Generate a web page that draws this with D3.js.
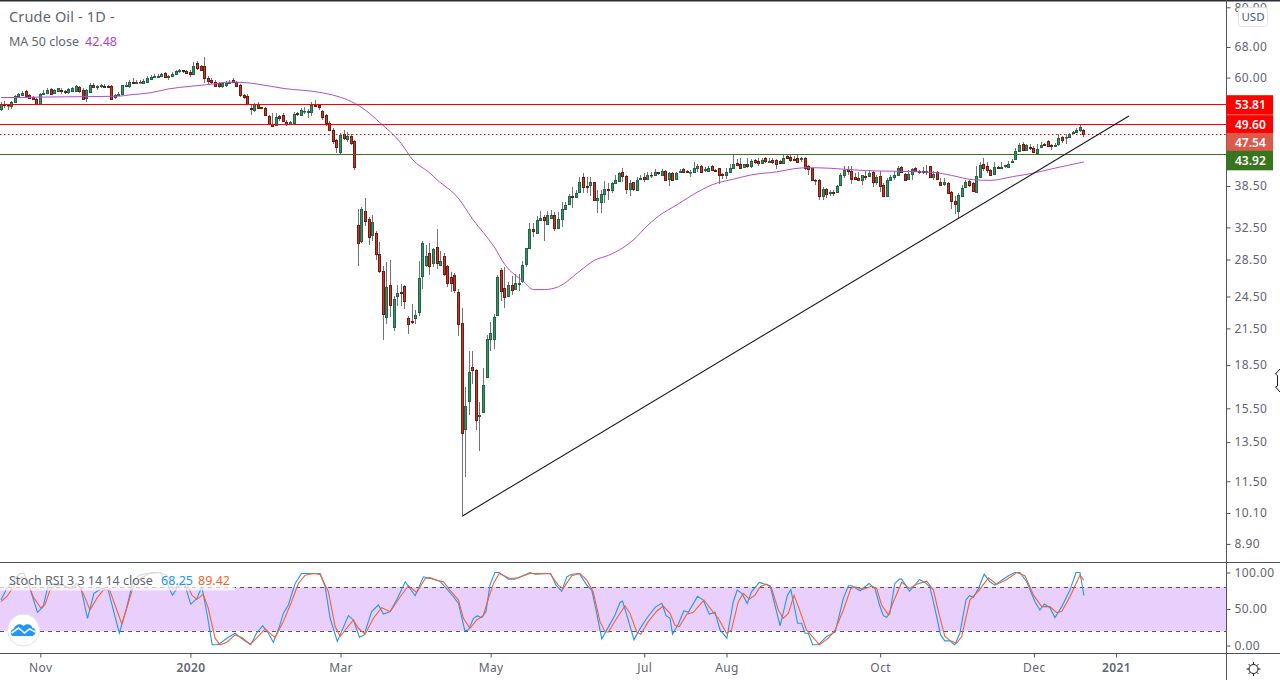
<!DOCTYPE html>
<html>
<head>
<meta charset="utf-8">
<script src="https://d3js.org/d3.v7.min.js"></script>
<style>
  html, body { margin: 0; padding: 0; background: #fff; overflow: hidden; }
  text { font-family: "Noto Sans", "Open Sans", sans-serif; }
  .domain { display: none; }
</style>
</head>
<body>
<div id="chart"></div>
<script>
// daily candles, oldest first
var opens = [
  52.8,53.9,53.7,53.4,54.2,55.7,55.8,56.8,55.8,55.5,
  54.9,53.9,56,56.3,57.2,56.3,56.8,57.1,56.8,56.5,
  56.9,56.8,57.7,57,55.2,56.6,58.1,57.8,57.9,58,
  57.9,57.9,55.4,55.8,56,58,58,59,58.8,59,
  58.6,58.9,59.6,60.1,60.2,60.4,61.1,60.2,60.3,61,
  61.6,61.8,61.7,61.5,60.9,63.7,62.8,62.8,60,59.4,
  59,58.6,57.9,58.2,58.8,59.3,58.9,58.1,55.9,55.7,
  52.9,52.5,53.8,53.1,53,51.2,49.6,49.4,51.2,51.4,
  50,49.6,49.9,51.9,51.5,52.3,52.2,52.1,53.6,53.6,
  52.4,51.4,49.9,48.5,46.4,44.2,47.6,46.7,47.3,46.2,
  32.8,30.8,34.7,33.7,31.5,31.8,29.2,27.2,22.5,25.7,
  21.6,24.5,24.95,25.6,22.4,22.2,22.4,23,26.6,27.9,
  29.3,28.1,30,27.9,28.9,27.7,26.5,26.7,25,22,
  14.25,16,18.35,18.1,15,15.3,17.65,20.6,20.6,22.75,
  27.3,25.4,24.5,25.7,25.3,25.75,26.1,28,29.9,32.3,
  31.8,33.5,33.9,33,33.8,34.2,32.4,33.6,35.1,35.7,
  37,36.8,37.5,39.9,38.5,38.6,39.1,36.3,36,37.2,
  38,37.8,39,39.3,40.8,40.1,38.1,39.1,37.8,39.7,
  39.9,39.6,40.3,40.3,40.7,40.3,41,39.6,40.6,39.7,
  40.7,41.2,41,40.7,40.7,41.4,41.8,41.1,41,41.7,
  41.1,41.4,40.5,40.3,40.8,41.5,42.3,42.1,41.6,42.1,
  41.7,42.8,42.6,42.3,43.1,42.5,42.9,42.8,42.6,42.3,
  43.5,43.4,43,43.1,43,43.2,41.8,41.4,39.5,39.5,
  37,38.1,37.4,37.5,37.5,38.7,40.3,41.2,40.9,39.9,
  39.8,39.5,40.1,40.1,40.8,39.1,40.1,38.7,37,39.5,
  39.9,40.2,41.6,40.5,39.7,40.4,41.4,41,40.9,40.8,
  41.7,40,40.7,39.1,38.8,39,37.5,36.2,34.7,37,
  38.3,39.3,38.9,37.6,40,42.2,41.8,41.1,40.4,41.6,
  41.5,41.7,41.6,42.4,43,44.5,45.8,44.7,45.1,45,
  44.1,45.1,45.8,46.2,45.6,45.4,45.7,47.1,47.1,47.1,
  47.8,48.1,48.4,48.5];
var highs = [
  54.2,54.5,53.9,54.5,55.9,56.3,56.9,57,56.1,55.7,
  55.2,56.4,57,57.4,57.5,57.2,57.6,57.4,57,57.6,
  57.8,58.1,58,57.4,57.3,58.6,58.7,58.3,58.5,58.5,
  58.1,58.1,56.2,56.6,58.2,59,59.5,59.8,59.5,59.3,
  59.7,60.3,60.6,60.9,60.8,61.1,61.4,60.7,61.3,61.9,
  62.2,62,62,61.8,64,64.3,63.3,65.3,60.5,59.9,
  59.3,59,58.9,59.2,59.4,59.9,59.2,58.4,56.2,56,
  53.9,54,54.3,53.3,53.2,51.5,51.9,51.9,51.5,51.8,
  50.4,50.3,52.1,52.2,53,53.3,52.8,54.3,54.7,53.8,
  52.6,51.7,50.2,48.8,46.6,47.8,48.4,48,47.6,46.5,
  35.1,35.3,36.7,33.9,34.2,32,30.6,27.7,28.2,28.5,
  24.5,25.7,25.8,25.7,22.6,23.8,23.2,28.3,30.7,30.3,
  30.5,29.9,32.3,29.5,29.3,27.9,27.1,27,25.3,23.4,
  16.9,19.6,19.6,18.2,15.9,18.3,20.9,22.1,22.8,26.7,
  27.5,27.6,26,26.6,26.9,26.9,28.3,29.9,33.1,33.1,
  34,34.8,34.2,34.7,34.9,34.6,34.6,36,36,37.3,
  38.4,37.9,39.9,40.6,40,40,39.2,37.9,37.8,39.3,
  39,39.2,40.3,40.8,41.5,40.3,39.4,39.2,39.9,40.2,
  40.6,40.7,40.7,41.2,40.8,41.2,41.1,40.7,40.7,40.7,
  41.3,41.4,41.1,41.1,42.4,42.1,41.9,41.6,41.8,41.9,
  41.3,41.4,40.6,41.4,42.1,43.8,43,43.2,42.2,43.2,
  43,43,43.2,43.1,43.4,43.1,43.1,43,42.8,43.8,
  43.8,43.8,43.6,43.8,43.4,43.4,42,41.5,39.6,39.6,
  38.4,38.2,37.9,37.8,38.7,40.6,41.7,41.7,41.7,40.6,
  40.7,40.3,40.9,41.1,40.9,40.3,40.9,39,39.8,40.3,
  40.9,41.7,41.7,40.6,41.1,41.4,41.6,41.1,41.6,41.9,
  41.8,40.9,41,39.8,39.8,39.2,37.7,37,37.4,38.7,
  39.5,39.5,39.2,41.7,42.4,43.1,42.5,41.2,42.5,41.8,
  42.5,42,42.6,43,44.9,46,46.1,45.8,45.8,45.3,
  45.7,46.1,46,46.5,45.8,46,47.7,47.2,47.7,47.9,
  48.3,48.9,49.4,48.6];
var lows = [
  52.4,52.9,52.6,52.8,54,55.5,55.6,55.5,55,54.7,
  53.8,53.8,55.8,56.1,55.9,56,56.6,56.2,56.2,56.2,
  56.7,56.5,56.4,54.9,54.2,56.3,57.4,57.1,57.5,57.5,
  57.5,54.8,55,55.6,55.8,57.9,57.5,58.5,58.5,58.6,
  58.4,58.7,59.5,59.9,60,60.1,59.9,59.5,60.1,60.8,
  61.1,61.1,60.8,60.2,60.7,62,61.8,58.8,58.5,58.5,
  57.7,57.5,57.5,57.8,58.5,58.6,57.7,55.5,54.9,53.6,
  51.4,52.2,52.7,52.7,51.2,49.4,49,49.2,50.3,50,
  49.3,49.4,49.7,51.2,51.2,51.6,50.8,51.3,53.2,52.6,
  50.4,49.3,48.2,45.8,44,43.8,46.4,46.1,45.6,41.1,
  27.7,30.5,32.7,30.3,30.7,28.5,27,20.5,21.9,22.5,
  21.3,23.6,23.6,23.3,21,21.9,21.9,22.6,25.3,27.6,
  26.8,27.6,27.4,27.7,26.6,25.5,25,24.9,20.8,10,
  11.7,15.1,17.1,14.2,13,15.3,17.6,19.6,19.8,22.75,
  24,23.4,24.4,24.6,25.2,25.1,25.9,27.6,29.8,31.3,
  31.7,33.4,30.8,32.9,33.6,32,32.3,32.5,35,35.6,
  35.2,36.7,37.4,37.4,37.4,36.9,36.2,34.5,34.5,35.9,
  36.3,37.4,38.9,39.2,39.2,37.3,37,37.7,37.7,39.5,
  39.2,39.4,39.8,40.2,40.2,40.3,39.4,38.5,39.4,39.5,
  40.6,40.6,40.6,39.9,40.6,40.8,40.7,40.7,40.9,40.9,
  40.8,38.8,39.7,39.6,40.8,41.4,41.8,41.2,41.5,41.5,
  41.5,42.1,41.8,42.2,42.3,42.3,42.2,41.2,42.2,42.2,
  43.1,42.4,42.6,42.4,42.5,41.1,40.3,39.4,38.7,36.4,
  36.4,36.7,36.9,37,37.4,38.5,39.8,40.3,38.8,39.4,
  39.3,38.7,39.4,40,38.4,38.7,37.5,36.9,36.9,39.4,
  39.5,40.1,40.6,39.4,39.6,39.4,40.9,40.5,40.4,40.3,
  39.8,39.5,39.6,38.5,38.5,37.2,35,34.3,33.7,36.9,
  38.2,38.4,37.6,37.5,39.8,40.9,40.6,40.2,40.2,41.2,
  41.2,41.5,41.5,42.3,42.8,44.4,44.4,44.5,44.7,44.1,
  44,44.9,45.3,45.2,44.7,45.3,45.3,45.9,45.8,46.9,
  47.6,47.9,48,47.1];
var closes = [
  53.8,53.6,53.6,54.2,55.7,56,56.4,55.6,55.2,54.9,
  53.9,56,56.3,57.1,56,57,57.4,56.7,56.6,57.3,
  57.5,57.9,56.7,55,57,58.2,57.8,57.9,58.2,57.8,
  57.7,55,55.9,56.2,58.1,58.2,59,58.8,59,58.9,
  59.2,60,60.2,60.5,60.5,60.9,60.2,60.5,61,61.6,
  61.8,61.6,61.1,60.9,62.9,62.3,62,59.8,59.1,58.9,
  57.9,58,58.6,58.7,59,58.9,58,55.9,55.4,53.8,
  52.7,53.8,53,52.9,51.4,49.6,49.2,51.1,50.9,50.2,
  49.6,50,51.7,51.6,52.5,52.4,52.4,53.6,53.4,53.3,
  51.1,49.9,48.5,46.2,45.2,47.4,46.8,47.2,45.9,41.6,
  30.5,35,33.3,31.2,33.2,29.2,27.2,22.8,25.5,23.7,
  24.2,24.8,24.8,24,21.9,22.05,22.7,26.4,30.5,28.9,
  27.7,29.7,28.1,28.3,26.9,25.9,25.9,25.2,21.9,14,
  15.65,18,18.1,14.8,15.1,17.05,20.6,21.1,22.5,26.5,
  25.1,24.4,25.7,25.2,25.9,25.85,27.9,29.9,32.3,32,
  33.5,33.8,33.5,34.2,34.2,32.4,33.6,35.1,35.6,37,
  36.8,37.4,39.1,38.3,38.3,39.2,36.3,36.6,37.2,38,
  37.8,39,39.4,40.6,40.1,38,39,38.1,39.5,39.8,
  39.6,40.3,40.2,40.8,40.6,40.9,39.5,40.6,39.5,40.6,
  41,40.7,40.8,40.7,41.4,41.7,40.8,41.2,41.5,41.1,
  41,40.3,40.3,40.8,41.5,42.2,41.9,41.4,42.1,41.7,
  42.6,42.4,42.3,42.9,42.6,42.7,42.5,42.2,42.3,43.2,
  43.2,42.8,42.9,42.5,43.2,41.5,41.3,39.5,39.4,37,
  38.1,37.2,37.5,37.4,38.5,40.3,41.1,41,39.6,39.7,
  39.4,40.2,40,40.6,39.2,39.9,38.5,37,39.5,39.9,
  40.3,41.4,40.7,39.5,40.4,41.2,41,40.8,40.8,40.9,
  40,40.5,39.6,38.6,39.2,37.4,36.2,35.7,37.1,38.2,
  39.1,38.7,37.7,40.1,41.9,41.5,41.1,40.3,41.6,41.4,
  41.6,41.9,42.2,42.7,44.5,45.6,44.6,45.6,45,44.2,
  44.8,45.5,45.6,45.3,45.4,45.6,46.9,46.4,47.1,47.7,
  48.1,48.4,49.1,47.54];

// 50 day moving average, read at the bends of the line
var maBars = [0,4,11,23,33,36,42,47,53,59,64,68,72,79,89,94,98,102,106,112,115,120,122,128,132,138,141,146,149,152,156,162,166,170,174,177,181,185,188,196,199,205,210,217,223,226,232,242,250,261,266,272,277,283,289,294,303];
var maValues = [55.3,55.3,55.4,55.5,55.6,55.9,56.4,57.3,57.9,58.4,58.9,58.8,58.4,57.4,56.5,55.6,54.4,52.5,49.9,45.8,43,40.6,39.5,36.6,33.6,30,27.9,26.1,25.2,25.2,25.5,27.2,28.4,29,29.9,30.9,32.8,34.4,35.3,37.9,38.7,39.6,40.3,40.8,41.4,41.5,41.4,41,40.9,40.7,40.2,39.5,39.4,40,40.6,41.3,42.48];

// stoch rsi, read at the vertices of each line
var stochKBars = [0,1.6,3.5,5.3,6.4,8.1,10.2,11.8,13.2,15.1,17.4,19.3,21.2,22.4,24.2,26,28.2,30,33.1,35,37,38.9,42.2,44.5,46.4,48,50.1,51.2,53.1,54.8,56.2,57.7,59.1,60.8,63.2,65.5,67.8,69.9,71.5,73.2,74.8,76.2,77.9,79,80.4,82.3,84.1,89.3,90.7,92.1,94.1,97.2,98.6,100.3,101.6,103.7,105.6,107,108.9,110.7,113.1,115.9,118.2,120,
  122.8,124.2,126.6,128,129.8,130.8,132.2,133.3,134.5,135.7,136.8,138.2,139.4,142,143.8,148,149.4,153.8,155.3,156.9,158.3,159.7,161.8,163.9,165.3,166.7,168.1,169.5,171.8,173.2,173.9,175.5,177.1,178.6,180.7,183,184.9,186.1,187.2,187.9,189.5,191.1,192.3,194.9,196.5,198.2,199.8,201.2,203.1,204.9,206,207.3,208.8,210,212.2,215.2,218,220,221,222.9,224,225,225.9,227.1,228.7,231,233.4,235.7,237.1,238,240.4,
  241.3,242.9,244.6,245.8,246.9,247.8,248.7,250.1,251.4,252,254.2,255.3,257,258.5,259.9,261.3,262.9,264.1,265.5,266.9,268.3,270,271,272.1,273.5,275.1,276.7,278.1,280,281.9,283.7,285.1,287,289.3,290.7,291.9,293.5,294.9,296.8,299.1,300.8,301.9,303];
var stochK = [62.3,78,89.5,98.6,98.6,78,45.5,53.2,82.7,85,81.8,78.2,85,78.2,37.3,71.4,78.2,75.9,16.8,48.6,89.5,96.4,100,100,85,69,85,87.3,56.4,64.5,80.5,41.8,1,1,10,16.8,7.7,1,16.8,27.3,16.8,4.5,25.9,44,55.5,85,98.6,98.6,80.5,37.3,5.5,40.9,35,11.4,14.5,46.4,55.5,43.2,46.4,62.3,87.3,68.2,94.1,92,
  88.2,80.5,66.8,57.7,20,21.4,37.3,40.5,38.2,46.4,82.7,100,100,90.9,90.9,100,97.7,98.6,82.7,74.5,94.1,97.7,98.6,82.7,75.9,44,9,21.4,41.8,59,61,35,7.7,21.4,37.3,52.3,57.7,40.9,37.3,15.5,29,47.7,45.5,67.3,62.3,42.7,45.5,21.4,10,60,75.9,71.4,57.7,73.6,86.4,81.8,26.8,68.2,76.8,30.5,30.5,16.8,16.8,1,1,12.3,18.2,64.5,81.8,81.8,75,
  79,85,77.3,55.5,40.9,38.6,44,85,90.9,90.9,74.5,80.5,90.5,86.4,80.5,50.9,14.5,6.4,6.4,1,16.8,62.3,68.2,66,78.2,97.7,87.3,82.7,89.5,95.5,100,100,87.3,60,48.6,56.8,51.8,38.2,53.2,75.9,100,100,68.25];
var stochDBars = [0,1.6,3.5,5.8,7.2,9,11.1,12.3,13.7,15.6,17.4,19.8,21.6,23,24.9,26.8,28.6,30.3,31.9,33.8,35.6,37,38.9,41.7,44.5,46.4,48.2,50.1,52,53.4,54.8,56.6,58,59.9,61.3,63.2,65.5,67.4,69.7,71.5,73.9,76.7,79,81.3,83.2,85.1,87.4,89.3,91.6,93.5,94.9,96.7,98.6,100,101.9,104.2,106.5,108.9,111.7,114,116.3,118.7,120,
  122.4,123.8,125.6,128,129.4,131.2,133.1,134.9,136.4,137.8,139.4,142.4,144.7,148,153.6,155.9,157.3,159.7,162,163.9,165.7,167.6,169,169.9,172.3,174.6,176,177.9,179,181.1,183.5,185.3,187.2,188.6,189.8,191.9,193.7,196.7,199.3,200.7,203,204.4,206.3,207.7,209.4,211,212.4,214.2,215.6,217.5,218.9,220.3,221.9,223.6,225.4,229,231.5,233.4,235.7,237.8,239,240.4,
  241.3,243.6,245,246.4,248.3,249.7,252,254.2,256.2,259,260.9,262.3,264.1,265.5,267.4,268.8,271.1,273.7,276.3,278.6,281.4,284.2,286.5,288.9,291.2,293.5,295.4,296.8,299.1,301.9,303];
var stochD = [60,66.8,80.5,94.1,89.5,66.8,51.8,55.5,75.9,82.7,82.7,78.2,82.7,71.4,48.6,64.5,75.9,77.3,55.5,29.5,57.7,80.5,91.8,98.6,100,96.4,78.2,82.7,85,69,63.2,70,50.9,10,1,4.5,14.5,10.9,1.8,10,22.7,10.9,32.7,60,85,96.4,98.6,97.3,73.6,25.9,12.3,23.6,35,23.6,15.5,37.3,51.8,46.4,66.8,81.8,72.7,91.8,93,
  88.6,87.3,75.9,62.3,37.3,23.6,35,40.5,64.5,85,98.6,91.8,92.7,98.6,98.6,82.7,78.2,95.5,98.6,89.5,73.6,32.7,19,18.2,37.3,54.5,44,18.2,15.5,32.7,47.3,54,44,27.3,25.9,42.7,45.5,62.3,45.5,37.3,16.8,21.4,60,71.4,63.6,69,80.5,84,78.2,48.6,37.3,44,69,46.4,21.4,1,10,21.4,48.6,78.2,80.5,78.2,
  76.8,81.4,78.2,55.5,41.8,60,86.4,78.2,84,88.2,75.9,46.4,12.3,6.8,3.2,12.3,62.3,75.9,92.7,83.6,90.5,100,95.5,69,53.2,53.2,45,46.4,66.8,96.4,89.42];

// trend line and horizontal levels
var trendBars = [129, 315.6];
var trendPrices = [9.97, 51.27];
var levelPrices = [53.81, 49.6, 47.54, 43.92];
var levelNames = ["53.81", "49.60", "47.54", "43.92"];
var levelColors = ["#ff0000", "#ff0000", "#ff0000", "#38761d"];
var levelBoxColors = ["#ff0000", "#ff0000", "#dc5a4b", "#38761d"];
var levelLabelShift = [0.5, 0.5, 8, 6.5];

// axes
var priceTicks = [80, 68, 60, 38.5, 32.5, 28.5, 24.5, 21.5, 18.5, 15.5, 13.5, 11.5, 10.1, 8.9];
var stochTicks = [100, 50, 0];
var bandLimits = [80, 20];
var timeBars = [11, 53, 95, 137, 180, 203, 246, 289, 312];
var timeLabels = ["Nov", "2020", "Mar", "May", "Jul", "Aug", "Oct", "Dec", "2021"];

var width = 1280,
    height = 680,
    axis_x = 1227,
    pane_sep = 562,
    time_y = 653;

var col_axis = "#50535e",
    col_text = "#62656f",
    col_up_fill = "#3f8f68",
    col_up_edge = "#1f6646",
    col_down_fill = "#c9362a",
    col_down_edge = "#6e1c12",
    col_wick = "#737373";

var x = d3.scaleLinear().domain([0, 303]).range([1, 1083.9]);
var y = d3.scaleLog().domain([10.1, 68]).range([513, 47]);
var yStoch = d3.scaleLinear().domain([0, 100]).range([645.5, 572.5]);

var svg = d3.select("#chart").append("svg")
    .attr("width", width)
    .attr("height", height)
    .style("display", "block");

var plot = svg.append("g");

// candles
var candles = plot.append("g").attr("id", "candles");
closes.forEach(function(c, i) {
    var o = opens[i], up = c >= o;
    var cx = Math.floor(x(i)) + 0.5;
    candles.append("line")
        .attr("x1", cx).attr("x2", cx)
        .attr("y1", Math.round(y(highs[i]))).attr("y2", Math.round(y(lows[i])))
        .attr("stroke", col_wick)
        .attr("stroke-width", 1);
    var top = Math.round(y(Math.max(o, c))) + 0.5,
        bot = Math.round(y(Math.min(o, c))) + 0.5;
    candles.append("rect")
        .attr("x", cx - 1).attr("width", 2)
        .attr("y", top).attr("height", Math.max(bot - top, 0.5))
        .attr("fill", up ? col_up_fill : col_down_fill)
        .attr("stroke", up ? col_up_edge : col_down_edge)
        .attr("stroke-width", 1);
});

// moving average
var maLine = d3.line()
    .x(function(d, i) { return x(maBars[i]); })
    .y(function(d) { return y(d); })
    .curve(d3.curveMonotoneX);
plot.append("path")
    .attr("d", maLine(maValues))
    .attr("fill", "none")
    .attr("stroke", "#b24fc6")
    .attr("stroke-width", 1);

// levels
levelPrices.forEach(function(p, i) {
    var ly = Math.round(y(p)) + 0.5;
    plot.append("line")
        .attr("x1", 0).attr("x2", axis_x)
        .attr("y1", ly).attr("y2", ly)
        .attr("stroke", levelColors[i])
        .attr("stroke-width", i == 2 ? 1 : 1.2)
        .attr("stroke-dasharray", i == 2 ? "1.5 2.5" : null);
});

// trend line
plot.append("path")
    .attr("d", d3.line()
        .x(function(d, i) { return x(trendBars[i]); })
        .y(function(d) { return y(d); })(trendPrices))
    .attr("fill", "none")
    .attr("stroke", "#131722")
    .attr("stroke-width", 1.1);

// stoch pane
var stochPane = svg.append("g");
stochPane.append("rect")
    .attr("x", 0).attr("width", axis_x)
    .attr("y", yStoch(bandLimits[0])).attr("height", yStoch(bandLimits[1]) - yStoch(bandLimits[0]))
    .attr("fill", "#e9d0fc");
bandLimits.forEach(function(v) {
    stochPane.append("line")
        .attr("x1", 0).attr("x2", axis_x)
        .attr("y1", Math.round(yStoch(v)) + 0.5).attr("y2", Math.round(yStoch(v)) + 0.5)
        .attr("stroke", "#5b4a69")
        .attr("stroke-dasharray", "4 4");
});
function stochPath(bars, values, color) {
    var line = d3.line()
        .x(function(d, i) { return x(bars[i]); })
        .y(function(d) { return yStoch(d); });
    stochPane.append("path")
        .attr("d", line(values))
        .attr("fill", "none")
        .attr("stroke", color)
        .attr("stroke-width", 1.1);
}
stochPath(stochKBars, stochK, "#2196f3");
stochPath(stochDBars, stochD, "#f4622d");

// legend backdrop over the stoch lines
stochPane.append("rect")
    .attr("x", 0).attr("y", 571).attr("width", 235).attr("height", 19.5)
    .attr("fill", "#fff").attr("opacity", 0.7);

// frame
svg.append("rect").attr("x", 0).attr("y", 0).attr("width", width).attr("height", 1.5).attr("fill", "#2a2e39");
[pane_sep, time_y].forEach(function(v) {
    svg.append("line")
        .attr("x1", 0).attr("x2", width)
        .attr("y1", v + 0.5).attr("y2", v + 0.5)
        .attr("stroke", col_axis);
});
svg.append("line")
    .attr("x1", axis_x - 0.5).attr("x2", axis_x - 0.5)
    .attr("y1", 0).attr("y2", height)
    .attr("stroke", col_axis);

function styleAxis(g) {
    g.selectAll("line").attr("stroke", col_axis);
    g.selectAll("text")
        .attr("fill", col_text)
        .style("font-size", "12px")
        .style("letter-spacing", "0.4px");
}

// price axis
var yAxis = d3.axisRight(y)
    .tickValues(priceTicks)
    .tickSize(4)
    .tickPadding(4)
    .tickFormat(d3.format(".2f"));
svg.append("g")
    .attr("transform", "translate(" + (axis_x - 0.5) + ",0)")
    .call(yAxis)
    .call(styleAxis);

var stochAxis = d3.axisRight(yStoch)
    .tickValues(stochTicks)
    .tickSize(4)
    .tickPadding(4)
    .tickFormat(d3.format(".2f"));
svg.append("g")
    .attr("transform", "translate(" + (axis_x - 0.5) + ",0)")
    .call(stochAxis)
    .call(styleAxis);

// time axis, year labels are heavier
var xAxis = d3.axisBottom(x)
    .tickValues(timeBars)
    .tickSize(4)
    .tickPadding(6)
    .tickFormat(function(d, i) { return timeLabels[i]; });
svg.append("g")
    .attr("transform", "translate(0," + (time_y + 0.5) + ")")
    .call(xAxis)
    .call(styleAxis)
    .selectAll("text")
    .style("font-weight", function(d, i) { return timeLabels[i].length == 4 ? 600 : 400; });

// last value boxes
levelPrices.forEach(function(p, i) {
    var cy = y(p) + levelLabelShift[i];
    svg.append("rect")
        .attr("x", axis_x - 0.5).attr("y", cy - 9.5)
        .attr("width", 46.5).attr("height", 19.5)
        .attr("fill", levelBoxColors[i]);
    svg.append("text")
        .attr("x", 1235).attr("y", cy + 0.5)
        .attr("dy", "0.35em")
        .attr("fill", "#fff")
        .attr("font-size", 12)
        .attr("font-weight", 600)
        .text(levelNames[i]);
});

// legends
function legend(lx, ly, size, color, label) {
    return svg.append("text")
        .attr("x", lx).attr("y", ly)
        .attr("font-size", size)
        .attr("fill", color)
        .text(label);
}
legend(9, 22, 14.5, col_text, "Crude Oil - 1D -").style("letter-spacing", "0.15px");
legend(9, 46, 12.5, col_text, "MA 50 close");
legend(85, 46, 12.5, "#ab47bc", "42.48");
legend(9, 584.5, 12.5, col_text, "Stoch RSI 3 3 14 14 close");
legend(161, 584.5, 12.5, "#2196f3", "68.25");
legend(198, 584.5, 12.5, "#f4622d", "89.42");

// USD button
svg.append("rect")
    .attr("x", 1238.5).attr("y", 7.5).attr("width", 29).attr("height", 19).attr("rx", 3)
    .attr("fill", "#fff").attr("stroke", "#e0e3eb");
svg.append("text")
    .attr("x", 1253).attr("y", 21)
    .attr("text-anchor", "middle")
    .attr("font-size", 11.5)
    .attr("fill", "#3f5a94")
    .text("USD");

// logo badge
var badge = svg.append("g").attr("transform", "translate(23.5,630)");
badge.append("circle").attr("r", 16).attr("fill", "#fff").attr("stroke", "#e6e0ea");
badge.append("path")
    .attr("d", "M-11,6 C-14,4 -13,0 -10,-1 C-8,-6 -3,-7 0,-4 C3,-7 8,-6 9,-2 C13,-2 13,5 9,6 Z")
    .attr("fill", "#2196f3");
badge.append("path")
    .attr("d", "M-12,3 L-5,-2 L1,3 L6,-1 L12,2")
    .attr("fill", "none")
    .attr("stroke", "#fff")
    .attr("stroke-width", 1.6);

// settings gear
var gear = svg.append("g").attr("transform", "translate(1253.5,669)");
gear.append("circle").attr("r", 4.5).attr("fill", "none").attr("stroke", "#131722");
d3.range(8).forEach(function(k) {
    var a = k * Math.PI / 4;
    gear.append("line")
        .attr("x1", 4.5 * Math.cos(a)).attr("y1", 4.5 * Math.sin(a))
        .attr("x2", 7 * Math.cos(a)).attr("y2", 7 * Math.sin(a))
        .attr("stroke", "#131722");
});

// cursor at the right edge
svg.append("path")
    .attr("d", "M1280,369 L1275.5,374 L1277.5,375.5 L1277.5,386 L1275.5,387 L1280,392")
    .attr("fill", "#fff")
    .attr("stroke", "#131722");
</script>
</body>
</html>
